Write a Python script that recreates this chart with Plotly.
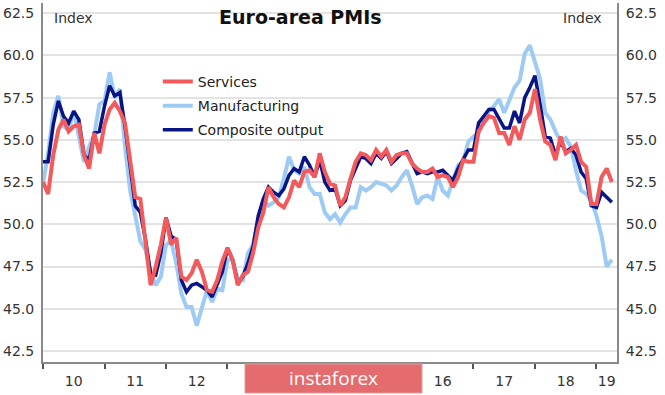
import plotly.graph_objects as go

# Monthly data, Jan 2010 .. Apr 2019
start_year = 2010
services = [
    52.5, 51.8, 54.1, 55.6, 56.2, 55.5, 55.8, 55.9, 54.1, 53.3, 55.4, 54.2,
    55.9, 56.8, 57.2, 56.7, 56.0, 53.7, 51.6, 51.5, 48.8, 46.4, 47.5, 48.8,
    50.4, 48.8, 49.2, 46.9, 46.7, 47.1, 47.9, 47.2, 46.1, 46.0, 46.7, 47.8,
    48.6, 47.9, 46.4, 47.0, 47.2, 48.3, 49.8, 50.7, 52.2, 51.6, 51.2, 51.0,
    51.6, 52.6, 52.2, 53.1, 53.2, 52.8, 54.2, 53.1, 52.4, 52.3, 51.1, 51.6,
    52.7, 53.7, 54.2, 54.1, 53.8, 54.4, 54.0, 54.4, 53.7, 54.1, 54.2, 54.2,
    53.6, 53.3, 53.1, 53.1, 53.3, 52.8, 52.9, 52.8, 52.2, 52.8, 53.8, 53.7,
    53.7, 55.5, 56.0, 56.4, 56.3, 55.4, 55.4, 54.7, 55.8, 55.0, 56.2, 56.6,
    58.0, 56.2, 54.9, 54.7, 53.8, 55.2, 54.2, 54.4, 54.7, 53.7, 53.4, 51.2,
    51.2, 52.8, 53.3, 52.5,
]
manufacturing = [
    52.4, 54.2, 56.6, 57.6, 55.8, 55.6, 56.7, 55.1, 53.7, 54.6, 55.3, 57.1,
    57.3, 59.0, 57.5, 58.0, 54.6, 52.0, 50.4, 49.0, 48.5, 47.1, 46.4, 46.9,
    48.8, 49.0, 47.7, 45.9, 45.1, 45.1, 44.0, 45.1, 46.1, 45.4, 46.2, 46.1,
    47.9, 47.9, 46.8, 46.7, 48.3, 48.8, 50.3, 51.4, 51.1, 51.3, 51.6, 52.7,
    54.0, 53.2, 53.0, 53.4, 52.2, 51.8, 51.8, 50.7, 50.3, 50.6, 50.1, 50.6,
    51.0, 51.0, 52.2, 52.0, 52.2, 52.5, 52.4, 52.3, 52.0, 52.3, 52.8, 53.2,
    52.3, 51.2, 51.6, 51.7, 51.5, 52.8, 52.0, 51.7, 52.6, 53.5, 53.7, 54.9,
    55.2, 55.4, 56.2, 56.7, 57.0, 57.4, 56.6, 57.4, 58.1, 58.5, 60.1, 60.6,
    59.6, 58.6, 56.6, 56.2, 55.5, 54.9, 55.1, 54.6, 53.2, 52.0, 51.8, 51.4,
    50.5, 49.3, 47.5, 47.9,
]
composite = [
    53.7, 53.7, 55.9, 57.3, 56.4, 56.0, 56.7, 56.2, 54.1, 53.8, 55.4, 55.5,
    57.0, 58.2, 57.6, 57.8, 55.8, 53.3, 51.1, 50.7, 49.1, 47.1, 47.0, 48.3,
    50.4, 49.3, 49.1, 46.7, 46.0, 46.4, 46.5, 46.3, 46.1, 45.7, 46.5, 47.2,
    48.6, 47.9, 46.5, 46.9, 47.7, 48.7, 50.5, 51.5, 52.2, 51.9, 51.7, 52.1,
    52.9, 53.3, 53.1, 54.0, 53.5, 52.8, 53.8, 52.5, 52.0, 52.1, 51.1, 51.4,
    52.6, 53.3, 54.0, 53.9, 53.6, 54.2, 53.9, 54.3, 53.6, 53.9, 54.2, 54.3,
    53.6, 53.0, 53.1, 53.0, 53.1, 53.1, 53.2, 52.9, 52.6, 53.3, 53.9, 54.4,
    54.4, 56.0, 56.4, 56.8, 56.8, 56.3, 55.7, 55.7, 56.7, 56.0, 57.5, 58.1,
    58.8, 57.1, 55.2, 55.1, 54.1, 54.9, 54.3, 54.5, 54.1, 53.1, 52.7, 51.1,
    51.0, 51.9, 51.6, 51.3,
]
year_labels = ["10", "11", "12", "13", "14", "15", "16", "17", "18", "19"]
y_ticks = [42.5, 45.0, 47.5, 50.0, 52.5, 55.0, 57.5, 60.0, 62.5]

x = [start_year + i / 12 for i in range(len(services))]
x_range = [2010.0, 2019.334]
label_pos = [2010.5 + i for i in range(9)] + [2019.167]

FONT = "DejaVu Sans"
fig = go.Figure()
fig.add_trace(go.Scatter(x=x, y=manufacturing, mode="lines", name="Manufacturing",
                         line=dict(color="#9DCBF3", width=4), legendgroup="m",
                         legendrank=2))
fig.add_trace(go.Scatter(x=x, y=composite, mode="lines", name="Composite output",
                         line=dict(color="#0A1585", width=3.5), legendgroup="c",
                         legendrank=3))
fig.add_trace(go.Scatter(x=x, y=services, mode="lines", name="Services", yaxis="y2",
                         line=dict(color="#F25A5C", width=4), legendgroup="s",
                         legendrank=1))

yr = [41.85, 63.1]
fig.update_layout(
    width=665, height=395,
    margin=dict(l=43, r=48, t=3, b=33),
    paper_bgcolor="white", plot_bgcolor="white",
    font=dict(family=FONT, size=14, color="#333333"),
    showlegend=True,
    legend=dict(x=0.2, y=0.825, xanchor="left", yanchor="top",
                bgcolor="rgba(0,0,0,0)", traceorder="grouped",
                tracegroupgap=3, itemwidth=30,
                font=dict(family=FONT, size=14, color="#222222")),
    xaxis=dict(range=x_range, showgrid=False, zeroline=False,
               showline=True, linecolor="#8a8a8a", linewidth=2,
               tickmode="array", tickvals=label_pos, ticktext=year_labels,
               ticks="", ticklabelstandoff=5,
               minor=dict(tickmode="array", tickvals=list(range(2010, 2020)),
                          ticks="outside", ticklen=5, tickwidth=1.5,
                          tickcolor="#555555", showgrid=False)),
    yaxis=dict(range=yr, tickvals=y_ticks, tickformat=".1f",
               showgrid=True, gridcolor="#e3e3e3", gridwidth=1.5,
               zeroline=False, showline=True, linecolor="#8a8a8a", linewidth=2,
               ticks="", ticklabelstandoff=4),
    yaxis2=dict(range=yr, tickvals=y_ticks, tickformat=".1f", overlaying="y",
                side="right", showgrid=False, zeroline=False, showline=True,
                linecolor="#8a8a8a", linewidth=2, ticks="", ticklabelstandoff=4),
)

fig.add_annotation(text="<b>Euro-area PMIs</b>", xref="paper", yref="paper",
                   x=0.448, y=0.961, showarrow=False, xanchor="center", yanchor="middle",
                   font=dict(family=FONT, size=19, color="#111111"))
fig.add_annotation(text="Index", xref="paper", yref="paper", x=0.0157, y=0.958,
                   showarrow=False, xanchor="left", yanchor="middle",
                   font=dict(family=FONT, size=14, color="#333333"))
fig.add_annotation(text="Index", xref="paper", yref="paper", x=0.977, y=0.958,
                   showarrow=False, xanchor="right", yanchor="middle",
                   font=dict(family=FONT, size=14, color="#333333"))

# watermark
fig.add_shape(type="rect", xref="paper", yref="paper", x0=0.3519, x1=0.6603,
              y0=-0.0864, y1=-0.0056, fillcolor="#E46C6E",
              line=dict(color="#d9a0a0", width=1), layer="above")
fig.add_annotation(text="instaforex", xref="paper", yref="paper", x=0.506, y=-0.045,
                   showarrow=False, xanchor="center", yanchor="middle",
                   font=dict(family="Open Sans", size=19, color="white"))

fig.write_html("out.html", config={"displayModeBar": False},
               post_script="document.body.style.margin='0';document.body.style.overflow='hidden';")
